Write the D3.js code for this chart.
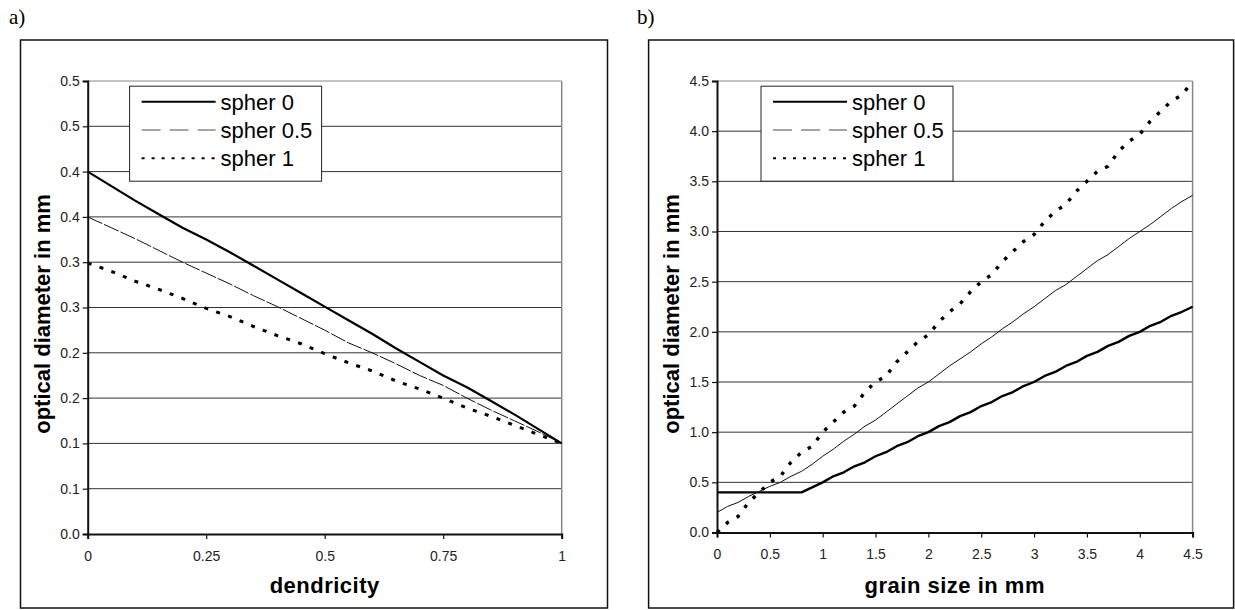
<!DOCTYPE html>
<html>
<head>
<meta charset="utf-8">
<script src="https://cdn.jsdelivr.net/npm/d3@7"></script>
<style>
  body { margin: 0; background: #fff; }
  text { font-family: Arial, "Liberation Sans", sans-serif; }
</style>
</head>
<body>
<svg id="chart" width="1235" height="610"></svg>
<script>
// ---- panel a) data : optical diameter vs dendricity
const dendricity = [0, 0.05, 0.1, 0.15, 0.2, 0.25, 0.3, 0.35, 0.4, 0.45, 0.5,
  0.55, 0.6, 0.65, 0.7, 0.75, 0.8, 0.85, 0.9, 0.95, 1];
const aSpher0 = [0.400, 0.384, 0.368, 0.353, 0.338, 0.325, 0.311, 0.296, 0.281, 0.266, 0.251,
  0.236, 0.221, 0.205, 0.190, 0.175, 0.162, 0.147, 0.132, 0.116, 0.100];
const aSpher05 = [0.350, 0.338, 0.326, 0.313, 0.300, 0.288, 0.276, 0.263, 0.251, 0.238, 0.225,
  0.211, 0.200, 0.188, 0.175, 0.164, 0.150, 0.137, 0.125, 0.113, 0.100];
const aSpher1 = [0.299, 0.290, 0.279, 0.270, 0.260, 0.249, 0.240, 0.229, 0.219, 0.210, 0.199,
  0.189, 0.180, 0.169, 0.160, 0.150, 0.139, 0.130, 0.120, 0.110, 0.100];
const aXTicks = [0, 0.25, 0.5, 0.75, 1];
const aXTickLabels = ["0", "0.25", "0.5", "0.75", "1"];
const aYTicks = [0, 0.05, 0.1, 0.15, 0.2, 0.25, 0.3, 0.35, 0.4, 0.45, 0.5];
const aYTickLabels = ["0.0", "0.1", "0.1", "0.2", "0.2", "0.3", "0.3", "0.4", "0.4", "0.5", "0.5"];

// ---- panel b) data : optical diameter vs grain size
const grainSize = [0, 0.1, 0.2, 0.3, 0.4, 0.5, 0.6, 0.7, 0.8, 0.9, 1.0,
  1.1, 1.2, 1.3, 1.4, 1.5, 1.6, 1.7, 1.8, 1.9, 2.0,
  2.1, 2.2, 2.3, 2.4, 2.5, 2.6, 2.7, 2.8, 2.9, 3.0,
  3.1, 3.2, 3.3, 3.4, 3.5, 3.6, 3.7, 3.8, 3.9, 4.0,
  4.1, 4.2, 4.3, 4.4, 4.5];
const bSpher0 = [0.4, 0.4, 0.4, 0.4, 0.4, 0.4, 0.4, 0.4, 0.4, 0.45, 0.5,
  0.56, 0.6, 0.66, 0.7, 0.76, 0.8, 0.86, 0.9, 0.96, 1.0,
  1.06, 1.1, 1.16, 1.2, 1.26, 1.3, 1.36, 1.4, 1.46, 1.5,
  1.56, 1.6, 1.66, 1.7, 1.76, 1.8, 1.86, 1.9, 1.96, 2.0,
  2.06, 2.1, 2.16, 2.2, 2.25];
const bSpher05 = [0.20, 0.26, 0.30, 0.36, 0.41, 0.46, 0.50, 0.56, 0.61, 0.68, 0.76,
  0.83, 0.91, 0.98, 1.06, 1.12, 1.20, 1.28, 1.36, 1.44, 1.50,
  1.58, 1.66, 1.73, 1.80, 1.88, 1.95, 2.03, 2.10, 2.18, 2.25,
  2.33, 2.41, 2.47, 2.55, 2.63, 2.71, 2.77, 2.85, 2.93, 3.00,
  3.07, 3.15, 3.23, 3.30, 3.36];
const bSpher1 = [0.0, 0.1, 0.16, 0.3, 0.4, 0.5, 0.56, 0.7, 0.8, 0.86, 1.0,
  1.1, 1.2, 1.26, 1.4, 1.5, 1.56, 1.7, 1.8, 1.9, 1.97,
  2.1, 2.2, 2.28, 2.4, 2.5, 2.57, 2.7, 2.8, 2.9, 2.97,
  3.1, 3.2, 3.27, 3.4, 3.5, 3.6, 3.65, 3.8, 3.9, 3.97,
  4.1, 4.2, 4.3, 4.36, 4.5];
const bXTicks = [0, 0.5, 1, 1.5, 2, 2.5, 3, 3.5, 4, 4.5];
const bXTickLabels = ["0", "0.5", "1", "1.5", "2", "2.5", "3", "3.5", "4", "4.5"];
const bYTicks = [0, 0.5, 1, 1.5, 2, 2.5, 3, 3.5, 4, 4.5];
const bYTickLabels = ["0.0", "0.5", "1.0", "1.5", "2.0", "2.5", "3.0", "3.5", "4.0", "4.5"];

const seriesNames = ["spher 0", "spher 0.5", "spher 1"];

const svg = d3.select("#chart");
svg.append("rect").attr("width", 1235).attr("height", 610).attr("fill", "#fff");

function drawPanel(p) {
  const g = svg.append("g");

  // outer frame + panel letter
  g.append("rect")
    .attr("x", p.frame[0]).attr("y", p.frame[1])
    .attr("width", p.frame[2]).attr("height", p.frame[3])
    .attr("fill", "none").attr("stroke", "#111").attr("stroke-width", 1.5);
  g.append("text")
    .attr("x", p.letterX).attr("y", 24)
    .style("font-family", "'Liberation Serif', 'Times New Roman', serif")
    .style("font-size", "21px")
    .text(p.letter);

  const x = d3.scaleLinear().domain(p.xDomain).range([p.left, p.right]);
  const y = d3.scaleLinear().domain(p.yDomain).range([p.bottom, p.top]);

  // grid lines
  g.append("g").selectAll("line")
    .data(p.yTicks.slice(1))
    .join("line")
    .attr("x1", p.left).attr("x2", p.right)
    .attr("y1", d => y(d)).attr("y2", d => y(d))
    .attr("stroke", (d, i, n) => i === n.length - 1 ? "#888" : "#333")
    .attr("stroke-width", 1);
  g.append("line")
    .attr("x1", p.right).attr("x2", p.right)
    .attr("y1", p.top).attr("y2", p.bottom)
    .attr("stroke", "#888").attr("stroke-width", 1.5);

  // series
  const styles = p.styles;
  p.series.forEach((vals, si) => {
    const line = d3.line()
      .x((d, i) => x(p.xs[i]))
      .y(d => y(d));
    g.append("path")
      .datum(vals)
      .attr("fill", "none")
      .attr("stroke", styles[si].color)
      .attr("stroke-width", styles[si].width)
      .attr("stroke-dasharray", styles[si].dash)
      .attr("stroke-linejoin", "round")
      .attr("d", line);
  });

  // legend
  const lg = g.append("g").attr("transform", `translate(${p.legend[0]},${p.legend[1]})`);
  lg.append("rect")
    .attr("width", 192).attr("height", 95)
    .attr("fill", "#fff").attr("stroke", "#222").attr("stroke-width", 1);
  seriesNames.forEach((name, i) => {
    const cy = 15.5 + i * 28.3;
    lg.append("line")
      .attr("x1", 12).attr("x2", 86)
      .attr("y1", cy).attr("y2", cy)
      .attr("stroke", p.legendStyles[i].color)
      .attr("stroke-width", p.legendStyles[i].width)
      .attr("stroke-dasharray", p.legendStyles[i].dash);
    lg.append("text")
      .attr("x", 91).attr("y", cy + 8)
      .style("font-size", "22px")
      .text(name);
  });

  // axes
  const yAxis = d3.axisLeft(y)
    .tickValues(p.yTicks)
    .tickFormat((d, i) => p.yTickLabels[i])
    .tickSize(5).tickPadding(3);
  const xAxis = d3.axisBottom(x)
    .tickValues(p.xTicks)
    .tickFormat((d, i) => p.xTickLabels[i])
    .tickSize(5).tickPadding(12);

  const ya = g.append("g").attr("transform", `translate(${p.left},0)`).call(yAxis);
  const xa = g.append("g").attr("transform", `translate(0,${p.bottom})`).call(xAxis);
  [ya, xa].forEach(a => {
    a.select(".domain").attr("stroke", "#111").attr("stroke-width", 2);
    a.selectAll(".tick line").attr("stroke", "#111").attr("stroke-width", 1.2);
    a.selectAll(".tick text")
      .style("font-family", "Arial, 'Liberation Sans', sans-serif")
      .style("font-size", "14px").attr("fill", "#222");
  });

  // axis titles
  g.append("text")
    .attr("x", (p.left + p.right) / 2).attr("y", 593)
    .attr("text-anchor", "middle")
    .style("font-size", "22px").style("font-weight", "bold")
    .style("letter-spacing", "0.5px")
    .text(p.xTitle);
  g.append("text")
    .attr("transform", `translate(${p.left - 38},314) rotate(-90)`)
    .attr("text-anchor", "middle")
    .style("font-size", "22px").style("font-weight", "bold")
    .text("optical diameter in mm");
}

drawPanel({
  letter: "a)", letterX: 9,
  frame: [20.5, 40, 587, 568],
  left: 87.7, right: 561.7, top: 81, bottom: 534,
  xDomain: [0, 1], yDomain: [0, 0.5],
  xs: dendricity, series: [aSpher0, aSpher05, aSpher1],
  styles: [
    { color: "#000", width: 2.2, dash: null },
    { color: "#111", width: 1, dash: "16,2" },
    { color: "#000", width: 3, dash: "4,8.5" }
  ],
  legendStyles: [
    { color: "#000", width: 2, dash: null },
    { color: "#888", width: 1.5, dash: "19,9" },
    { color: "#000", width: 2, dash: "3,7" }
  ],
  legend: [129.6, 86.2],
  xTicks: aXTicks, xTickLabels: aXTickLabels,
  yTicks: aYTicks, yTickLabels: aYTickLabels,
  xTitle: "dendricity"
});

drawPanel({
  letter: "b)", letterX: 637,
  frame: [648.6, 40, 585, 568],
  left: 717, right: 1192.6, top: 81, bottom: 532.5,
  xDomain: [0, 4.5], yDomain: [0, 4.5],
  xs: grainSize, series: [bSpher0, bSpher05, bSpher1],
  styles: [
    { color: "#000", width: 2.4, dash: null },
    { color: "#111", width: 1, dash: null },
    { color: "#000", width: 3.4, dash: "3.5,9" }
  ],
  legendStyles: [
    { color: "#000", width: 2, dash: null },
    { color: "#888", width: 1.5, dash: "19,9" },
    { color: "#000", width: 2, dash: "3,7" }
  ],
  legend: [761, 86.2],
  xTicks: bXTicks, xTickLabels: bXTickLabels,
  yTicks: bYTicks, yTickLabels: bYTickLabels,
  xTitle: "grain size in mm"
});
</script>
</body>
</html>
